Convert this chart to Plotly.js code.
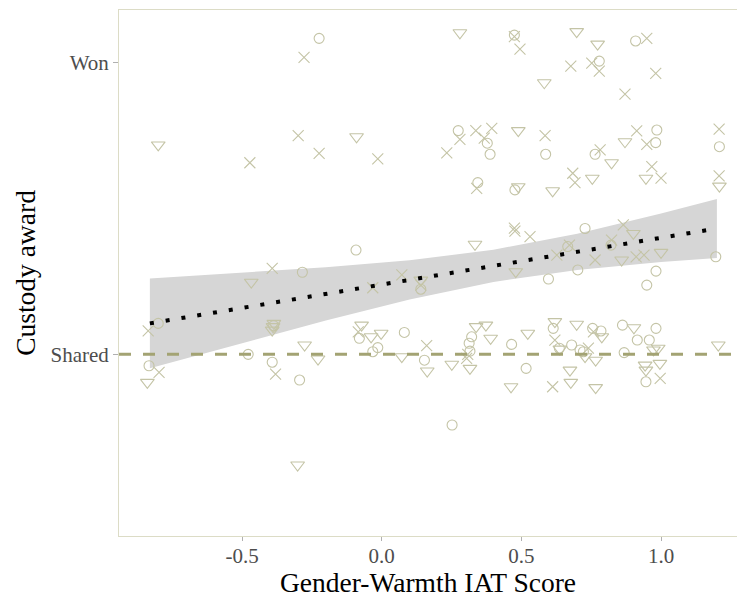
<!DOCTYPE html>
<html>
<head>
<meta charset="utf-8">
<script src="https://cdn.plot.ly/plotly-3.0.1.min.js"></script>
<style>html,body{margin:0;padding:0;background:#fff;}#chart{width:737px;height:598px;}</style>
</head>
<body>
<div id="chart"></div>
<script>
// Jittered observations (x = IAT score, y = award: 0 = Shared, 1 = Won)
var circleX = [-0.224,0.475,0.274,0.378,0.388,0.344,0.477,0.779,0.909,0.587,0.764,0.985,0.981,1.209,-0.284,-0.800,-0.387,-0.478,-0.833,-0.392,-0.294,-0.092,0.140,-0.080,-0.014,-0.032,0.081,0.153,0.322,0.313,0.316,0.465,0.517,0.728,0.666,0.821,1.196,0.702,0.597,0.982,0.949,0.614,0.636,0.680,0.710,0.722,0.755,0.785,0.862,0.915,0.982,0.958,0.868,0.946,0.252];
var circleY = [1.082,1.093,0.766,0.723,0.685,0.588,0.563,1.004,1.073,0.685,0.685,0.768,0.725,0.711,0.281,0.106,0.098,0.000,-0.039,-0.027,-0.088,0.357,0.223,0.055,0.023,0.009,0.075,-0.020,0.060,0.038,0.011,0.034,-0.048,0.431,0.369,0.374,0.334,0.289,0.258,0.285,0.237,0.089,0.021,0.032,0.015,0.009,0.089,0.080,0.100,0.049,0.089,0.049,0.006,-0.094,-0.242];

var crossX = [-0.278,-0.299,-0.224,-0.472,0.475,0.495,-0.014,0.280,0.337,0.394,0.367,0.233,0.340,0.949,0.677,0.752,0.779,0.981,0.871,0.585,0.782,0.913,0.949,0.684,0.692,0.967,1.000,1.208,1.208,-0.392,-0.836,-0.797,-0.380,0.475,0.477,0.531,0.072,-0.032,0.140,-0.084,0.161,0.308,0.304,0.865,0.672,0.627,0.823,0.764,0.911,0.939,0.620,0.740,0.758,0.997,0.612];
var crossY = [1.017,0.749,0.688,0.656,1.088,1.045,0.669,0.736,0.766,0.774,0.740,0.690,0.568,1.082,0.987,0.997,0.970,0.962,0.891,0.749,0.700,0.765,0.719,0.620,0.588,0.643,0.603,0.771,0.611,0.294,0.080,-0.062,-0.068,0.432,0.422,0.403,0.272,0.228,0.237,0.077,0.030,0.000,-0.014,0.443,0.374,0.340,0.391,0.323,0.334,0.340,0.049,0.021,0.077,-0.082,-0.111];

var triX = [-0.800,0.280,-0.090,0.489,0.489,0.698,0.773,0.582,0.823,0.871,0.754,0.946,0.612,1.209,-0.467,-0.386,-0.389,-0.392,-0.276,-0.228,-0.839,0.334,0.140,0.480,-0.072,-0.038,-0.002,0.072,0.163,0.251,0.338,0.373,0.390,0.316,0.523,0.463,0.901,0.859,1.000,0.620,0.638,0.698,0.728,0.788,0.766,0.903,0.973,0.990,0.996,0.943,0.946,0.674,0.677,0.766,1.205,-0.301];
var triY = [0.717,1.101,0.745,0.766,0.574,1.105,1.062,0.930,0.656,0.728,0.603,0.603,0.560,0.576,0.247,0.106,0.095,0.083,0.032,-0.016,-0.096,0.377,0.254,0.283,0.100,0.060,0.072,-0.008,-0.057,-0.034,0.095,0.100,0.055,-0.048,0.072,-0.111,0.414,0.323,0.349,0.112,0.018,0.103,-0.008,0.060,-0.020,0.091,0.015,0.021,-0.031,-0.037,-0.054,-0.054,-0.096,-0.114,0.032,-0.379];

// Fitted line and confidence band
var fitX = [-0.83,-0.5,-0.2,0.1,0.4,0.7,1.0,1.2];
var fitY = [0.106,0.159,0.207,0.255,0.303,0.351,0.399,0.431];
var bandUpper = [0.260,0.279,0.298,0.322,0.358,0.413,0.482,0.532];
var bandLower = [-0.048,0.039,0.116,0.188,0.248,0.289,0.316,0.330];

var yTickVals = [0, 1];
var yTickText = ['Shared', 'Won'];
var xTickVals = [-0.5, 0.0, 0.5, 1.0];
var xTickText = ['-0.5', '0.0', '0.5', '1.0'];

var ptColor = '#c4c4a6';
var serif = 'Liberation Serif, Times New Roman, serif';

var traces = [
  {x: fitX, y: bandLower, mode: 'lines', line: {width: 0, color: 'rgba(0,0,0,0)'}, hoverinfo: 'skip', showlegend: false},
  {x: fitX, y: bandUpper, mode: 'lines', fill: 'tonexty', fillcolor: '#d6d6d6', line: {width: 0, color: 'rgba(0,0,0,0)'}, hoverinfo: 'skip', showlegend: false},
  {x: circleX, y: circleY, mode: 'markers', type: 'scatter', showlegend: false,
   marker: {symbol: 'circle-open', size: 10, color: ptColor, line: {width: 1.1, color: ptColor}}},
  {x: crossX, y: crossY, mode: 'markers', type: 'scatter', showlegend: false,
   marker: {symbol: 'x-thin-open', size: 11, color: ptColor, line: {width: 1.1, color: ptColor}}},
  {x: triX, y: triY, mode: 'markers', type: 'scatter', showlegend: false,
   marker: {symbol: 'triangle-down-open', size: 12, color: ptColor, line: {width: 1.1, color: ptColor}}},
  {x: fitX, y: fitY, mode: 'lines', showlegend: false,
   line: {color: '#000000', width: 4, dash: '4px,12px'}}
];

var layout = {
  width: 737, height: 598,
  margin: {l: 119, r: 0, t: 10, b: 62},
  paper_bgcolor: '#ffffff', plot_bgcolor: '#ffffff',
  font: {family: serif, color: '#4d4d4d', size: 21},
  xaxis: {
    range: [-0.9405, 1.272], tickvals: xTickVals, ticktext: xTickText,
    showgrid: false, zeroline: false, showline: true, linecolor: '#dcdcc6', linewidth: 1, mirror: true,
    ticks: 'outside', ticklen: 4, tickcolor: '#b0b0b0', tickwidth: 1,
    ticklabelstandoff: -3,
    tickfont: {family: serif, size: 21, color: '#4d4d4d'},
    title: {text: 'Gender-Warmth IAT Score', font: {family: serif, size: 27.5, color: '#000000'}, standoff: 11}
  },
  yaxis: {
    range: [-0.622, 1.179], tickvals: yTickVals, ticktext: yTickText,
    showgrid: false, zeroline: false, showline: true, linecolor: '#dcdcc6', linewidth: 1,
    ticks: 'outside', ticklen: 5, tickcolor: '#b0b0b0', tickwidth: 1,
    tickfont: {family: serif, size: 21, color: '#4d4d4d'},
    title: {text: 'Custody award', font: {family: serif, size: 27.5, color: '#000000'}, standoff: 6}
  },
  shapes: [
    {type: 'line', xref: 'paper', x0: 0, x1: 1, yref: 'y', y0: 0, y1: 0,
     line: {color: '#a3a373', width: 3, dash: '12px,12px'}}
  ]
};

Plotly.newPlot('chart', traces, layout, {displayModeBar: false, staticPlot: true});
</script>
</body>
</html>
